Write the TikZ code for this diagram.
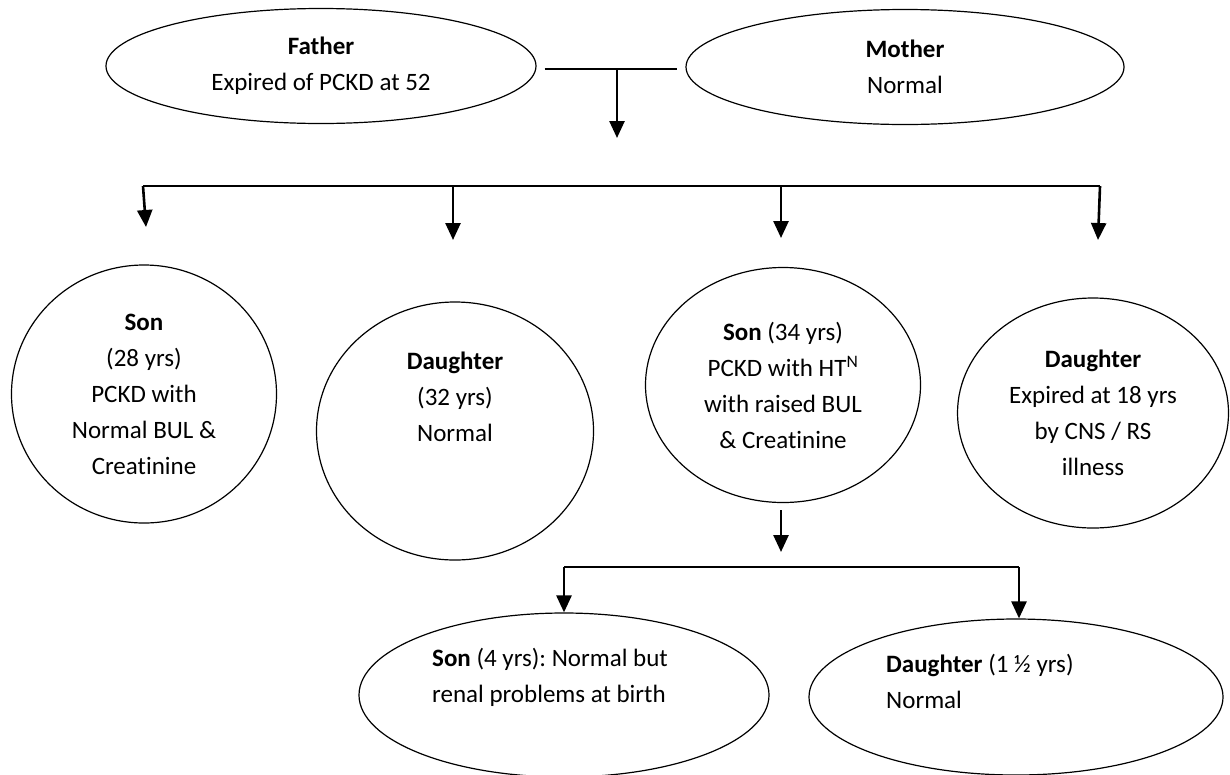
\documentclass[tikz,border=0pt]{standalone}
\usepackage{fontspec}
\setmainfont{Carlito}[Ligatures=NoCommon]
\usetikzlibrary{arrows.meta,shapes.geometric}
\frenchspacing

\begin{document}
\begin{tikzpicture}[x=1pt,y=-1pt,>={Triangle[width=15pt,length=17pt]},font=\fontsize{25}{36}\selectfont]
  \tikzstyle{oval}=[draw,ellipse,inner sep=0pt,align=center,line width=1.2pt]
  \tikzstyle{tall}=[align=center]
  \tikzstyle{wide}=[align=left,inner sep=0pt]
  \tikzstyle{link}=[line width=1.3pt]
  \tikzstyle{drop}=[line width=2.6pt,->]
  \useasboundingbox (0,0) rectangle (1230,774);
  % parents
  \node[oval,minimum width=430pt,minimum height=115pt] (father) at (321,66) {\textbf{Father}\\Expired of PCKD at 52};
  \node[oval,minimum width=438pt,minimum height=115pt] (mother) at (905,67) {\textbf{Mother}\\Normal};
  \coordinate (union) at (617,69);
  \coordinate (unionend) at (617,138);
  \draw[link,shorten <=8pt,shorten >=8pt] (father.east |- union) -- (mother.west |- union);
  \draw[drop] (union) -- (unionend);
  % children
  \node[oval,tall,minimum width=265pt,minimum height=258pt] (son1) at (144,394) {\textbf{Son}\\(28 yrs)\\PCKD with\\Normal BUL \&\\Creatinine};
  \node[oval,minimum width=277pt,minimum height=258pt] (dau1) at (455,431) {};
  \node[tall] (dau1txt) at (455,397) {\textbf{Daughter}\\(32 yrs)\\Normal};
  \node[oval,tall,minimum width=275pt,minimum height=235pt] (son2) at (783,385) {\textbf{Son} (34 yrs)\\PCKD with HT\textsuperscript{N}\\with raised BUL\\\& Creatinine};
  \node[oval,tall,minimum width=271pt,minimum height=230pt] (dau2) at (1093,413) {\textbf{Daughter}\\Expired at 18 yrs\\by CNS / RS\\illness};
  \coordinate (barL) at (143,186);
  \coordinate (barR) at (1100,186);
  \coordinate (t1) at (146,227);
  \coordinate (t2) at (453,240);
  \coordinate (t3) at (781,238);
  \coordinate (t4) at (1098,240);
  \draw[link] (barL) -- (barR);
  \draw[drop] (barL) -- (t1);
  \draw[drop] (t2 |- barL) -- (t2);
  \draw[drop] (t3 |- barL) -- (t3);
  \draw[drop] (barR) -- (t4);
  % grandchildren
  \coordinate (kids) at (781,552);
  \draw[drop,shorten <=7pt] (kids |- son2.south) -- (kids);
  \node[oval,minimum width=410pt,minimum height=164pt] (son3) at (564,695) {};
  \node[wide,anchor=north west] (son3txt) at (432,648) {\textbf{Son} (4 yrs): Normal but\\renal problems at birth};
  \node[oval,minimum width=414pt,minimum height=156pt] (dau3) at (1016,697) {};
  \node[wide,anchor=north west] (dau3txt) at (886,654) {\textbf{Daughter} (1 ½ yrs)\\Normal};
  \coordinate (kidsL) at (564,567);
  \coordinate (kidsR) at (1019,567);
  \draw[link] (kidsL) -- (kidsR);
  \draw[drop] (kidsL) -- (son3.north);
  \draw[drop] (kidsR) -- (kidsR |- dau3.north);
\end{tikzpicture}
\end{document}
